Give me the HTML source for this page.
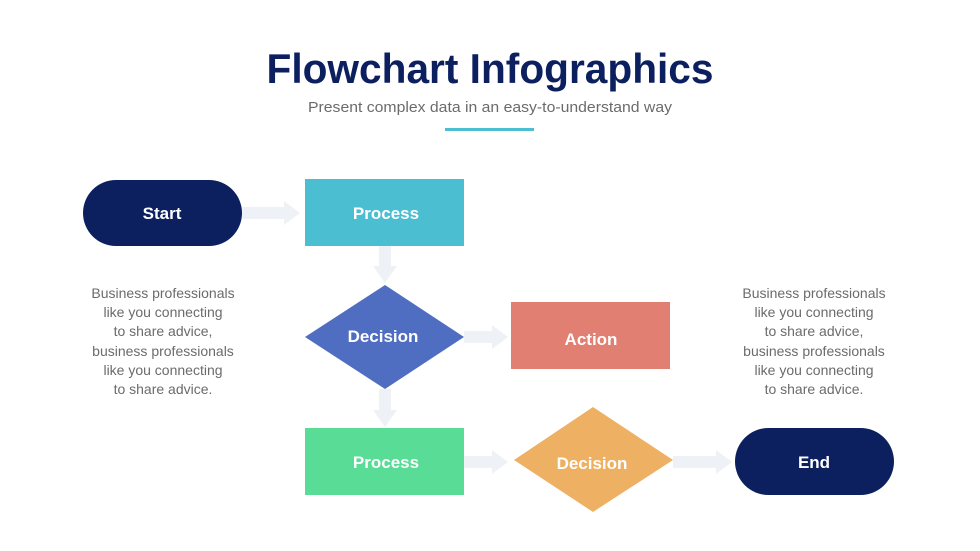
<!DOCTYPE html>
<html><head><meta charset="utf-8"><style>
html,body{margin:0;padding:0;background:#fff;}
svg{display:block;}
text{font-family:"Liberation Sans",sans-serif;}
</style></head><body>
<svg width="980" height="551" viewBox="0 0 980 551" xmlns="http://www.w3.org/2000/svg">
<rect width="980" height="551" fill="#fff"/>
<text x="490" y="83" text-anchor="middle" font-size="42" font-weight="bold" fill="#0c1f5e" textLength="447" lengthAdjust="spacingAndGlyphs">Flowchart Infographics</text>
<text x="490" y="112" text-anchor="middle" font-size="15" fill="#6b6b6b" textLength="364" lengthAdjust="spacingAndGlyphs">Present complex data in an easy-to-understand way</text>
<rect x="445" y="128" width="89" height="3" fill="#4bbfd1"/>
<g fill="#eef2f6">
<rect x="242" y="207" width="45" height="12"/><polygon points="284,201 300,213 284,225"/>
<rect x="379" y="246" width="12" height="24"/><polygon points="373,266 397,266 385,283"/>
<rect x="464" y="331" width="30" height="12"/><polygon points="492,325 508,337 492,349"/>
<rect x="379" y="389" width="12" height="24"/><polygon points="373,410 397,410 385,427"/>
<rect x="464" y="456" width="30" height="12"/><polygon points="492,450 508,462 492,474"/>
<rect x="673" y="456" width="45" height="12"/><polygon points="716,450 732,462 716,474"/>
</g>
<rect x="83" y="180" width="159" height="66" rx="33" fill="#0c1f5e"/>
<text x="162" y="219" text-anchor="middle" font-size="17" font-weight="bold" fill="#fff">Start</text>
<rect x="305" y="179" width="159" height="67" fill="#4bbfd1"/>
<text x="386" y="219" text-anchor="middle" font-size="17" font-weight="bold" fill="#fff">Process</text>
<polygon points="385,285 464,337 385,389 305,337" fill="#4f6ec2"/>
<text x="383" y="342" text-anchor="middle" font-size="17" font-weight="bold" fill="#fff">Decision</text>
<rect x="511" y="302" width="159" height="67" fill="#e17f72"/>
<text x="591" y="345" text-anchor="middle" font-size="17" font-weight="bold" fill="#fff">Action</text>
<rect x="305" y="428" width="159" height="67" fill="#58dc96"/>
<text x="386" y="468" text-anchor="middle" font-size="17" font-weight="bold" fill="#fff">Process</text>
<polygon points="593,407 673,460 593,512 514,460" fill="#eeb063"/>
<text x="592" y="469" text-anchor="middle" font-size="17" font-weight="bold" fill="#fff">Decision</text>
<rect x="735" y="428" width="159" height="67" rx="33.5" fill="#0c1f5e"/>
<text x="814" y="468" text-anchor="middle" font-size="17" font-weight="bold" fill="#fff">End</text>
<g font-size="14" fill="#6b6b6b" text-anchor="middle">
<text x="163" y="298">Business professionals</text>
<text x="163" y="317">like you connecting</text>
<text x="163" y="336">to share advice,</text>
<text x="163" y="356">business professionals</text>
<text x="163" y="375">like you connecting</text>
<text x="163" y="394">to share advice.</text>
<text x="814" y="298">Business professionals</text>
<text x="814" y="317">like you connecting</text>
<text x="814" y="336">to share advice,</text>
<text x="814" y="356">business professionals</text>
<text x="814" y="375">like you connecting</text>
<text x="814" y="394">to share advice.</text>
</g>
</svg>
</body></html>
